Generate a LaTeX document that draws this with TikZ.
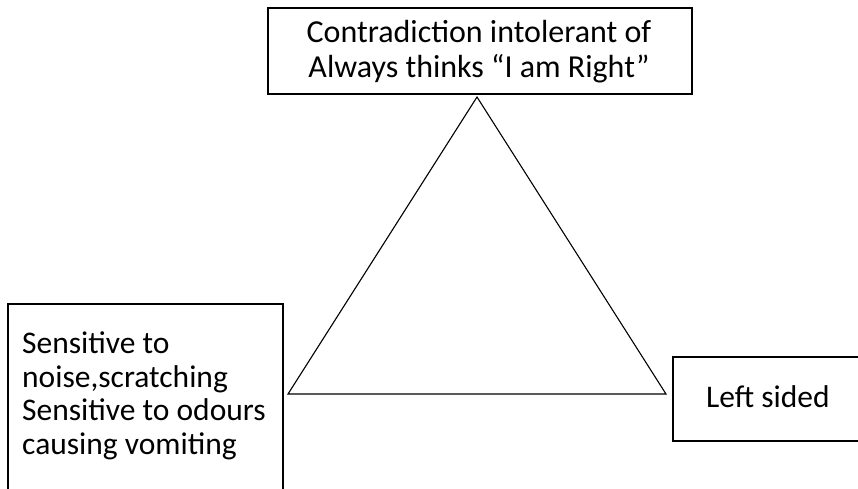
\documentclass[tikz,border=0pt]{standalone}
\usepackage{fontspec}
\setmainfont{Carlito}
\begin{document}
\begin{tikzpicture}[x=1pt,y=-1pt,
  box/.style={draw, line width=1.8pt},
  tri/.style={draw, line width=1.1pt, line join=miter},
  lbl/.style={inner sep=0pt}]
\useasboundingbox (0,0) rectangle (858,488);
\clip (0,0) rectangle (858,488);
% boxes
\draw[box] (268,8) rectangle (692,94);
\draw[box] (8,304) rectangle (283,500);
\draw[box] (673,357) rectangle (870,441);
% triangle
\coordinate (A) at (477,97);
\coordinate (B) at (288,394);
\coordinate (C) at (666,394);
\draw[tri] (A) -- (B) -- (C) -- cycle;
% texts
\node[lbl, align=center, anchor=north, font=\fontsize{32}{35}\selectfont] (top) at (479,20) {Contradiction intolerant of\\Always thinks “I am Right”};
\node[lbl, align=left, anchor=north west, font=\fontsize{31.5}{33.5}\selectfont] (left) at (22,332) {Sensitive to\\noise,scratching\\Sensitive to odours\\causing vomiting};
\node[lbl, anchor=base west, font=\fontsize{31.5}{33.5}\selectfont] (right) at (706,407) {Left sided};
\end{tikzpicture}
\end{document}
